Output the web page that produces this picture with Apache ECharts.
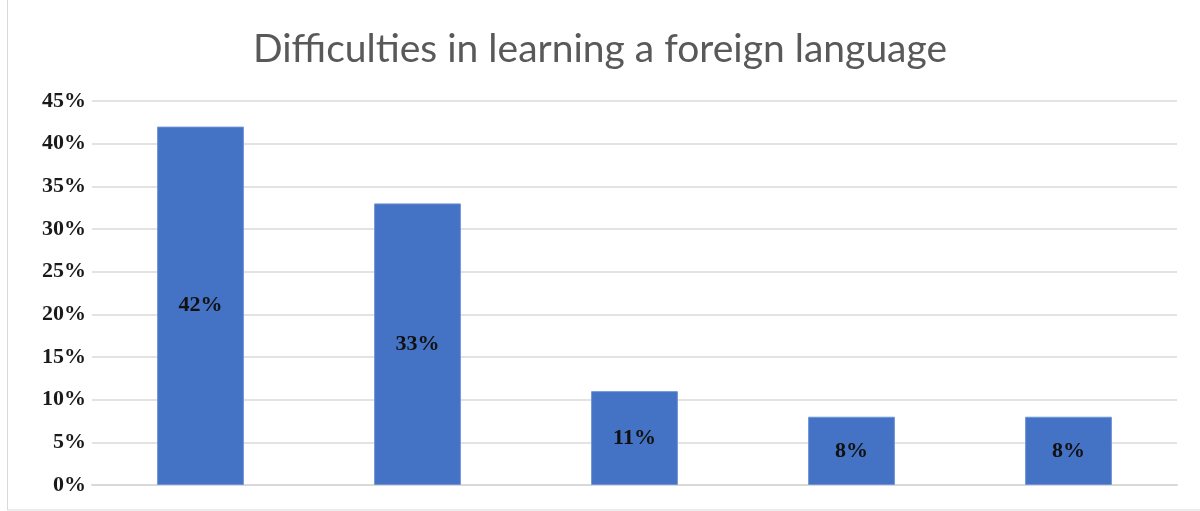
<!DOCTYPE html>
<html>
<head>
<meta charset="utf-8">
<script src="https://cdn.jsdelivr.net/npm/echarts@6/dist/echarts.min.js"></script>
<style>
  html, body { margin: 0; padding: 0; background: #fff; }
  #chart { width: 1200px; height: 511px; }
</style>
</head>
<body>
<div id="chart"></div>
<script>
  // data
  var categories = ['A', 'B', 'C', 'D', 'E'];
  var shares = [42, 33, 11, 8, 8];
  var yTicks = { min: 0, max: 45, step: 5 };

  var myChart = echarts.init(document.getElementById('chart'));

  var option = {
    animation: false,
    backgroundColor: '#fff',
    title: {
      text: 'Difficulties in learning a foreign language',
      left: 'center',
      top: 25,
      textStyle: {
        fontFamily: 'Lato',
        fontWeight: 'normal',
        fontSize: 39,
        color: '#595959'
      }
    },
    graphic: [{
      type: 'rect',
      shape: { x: 7.5, y: -2, width: 1200, height: 512 },
      style: { fill: 'none', stroke: '#d9d9d9', lineWidth: 1 },
      silent: true
    }],
    grid: { left: 92, right: 23, top: 101, bottom: 26 },
    xAxis: {
      type: 'category',
      data: categories,
      axisLine: { show: true, lineStyle: { color: '#d9d9d9', width: 2 } },
      axisTick: { show: false },
      axisLabel: { show: false }
    },
    yAxis: {
      type: 'value',
      min: yTicks.min,
      max: yTicks.max,
      interval: yTicks.step,
      axisLine: { show: false },
      axisTick: { show: false },
      splitLine: { lineStyle: { color: '#e3e3e3', width: 2 } },
      axisLabel: {
        formatter: '{value}%',
        margin: 6,
        fontFamily: 'Liberation Serif',
        fontWeight: 'bold',
        fontSize: 22,
        color: '#1a1a1a'
      }
    },
    series: [{
      type: 'bar',
      data: shares,
      barWidth: '40%',
      itemStyle: { color: '#4472c4', borderColor: '#6f93d6', borderWidth: 1 },
      label: {
        show: true,
        position: 'inside',
        formatter: '{c}%',
        fontFamily: 'Liberation Serif',
        fontWeight: 'bold',
        fontSize: 22,
        color: '#111'
      }
    }]
  };

  myChart.setOption(option);
</script>
</body>
</html>
